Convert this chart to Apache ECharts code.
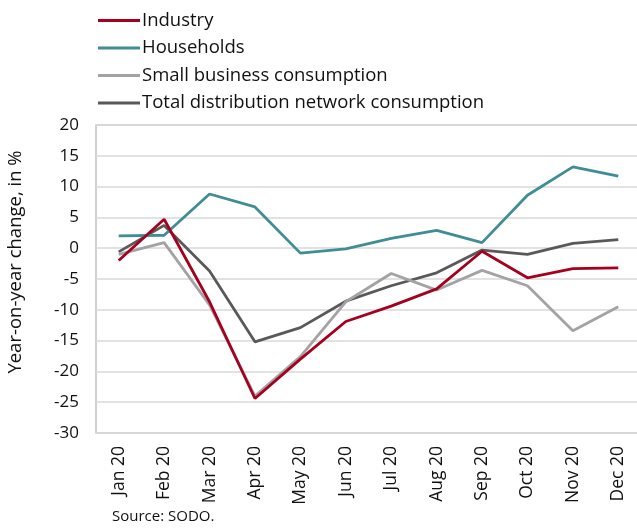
<!DOCTYPE html>
<html><head><meta charset="utf-8">
<script src="https://cdn.jsdelivr.net/npm/echarts@6/dist/echarts.min.js"></script>
<style>html,body{margin:0;padding:0;background:#fff;overflow:hidden}#c{width:645px;height:529px}</style>
</head><body><div id="c"></div>
<script>
const categories = ["Jan 20","Feb 20","Mar 20","Apr 20","May 20","Jun 20","Jul 20","Aug 20","Sep 20","Oct 20","Nov 20","Dec 20"];
const industry = [-2.0, 4.7, -8.7, -24.4, -18.0, -11.9, -9.4, -6.6, -0.5, -4.8, -3.3, -3.2];
const households = [2.0, 2.1, 8.8, 6.7, -0.8, -0.1, 1.6, 2.9, 0.9, 8.6, 13.2, 11.7];
const smallBusiness = [-1.0, 0.9, -9.2, -24.0, -17.6, -8.7, -4.1, -6.8, -3.6, -6.1, -13.4, -9.5];
const totalNetwork = [-0.6, 3.7, -3.7, -15.2, -12.9, -8.6, -6.1, -4.0, -0.3, -1.0, 0.8, 1.4];
const seriesNames = ["Industry","Households","Small business consumption","Total distribution network consumption"];
const colors = ["#a6001f","#3f8e95","#a3a3a3","#595959"];
const yMin = -30, yMax = 20, yStep = 5;

const font = "'Open Sans', 'Liberation Sans', sans-serif";
const chart = echarts.init(document.getElementById('c'), null, {renderer:'canvas'});
const data = [industry, households, smallBusiness, totalNetwork];
chart.setOption({
  animation:false,
  color: colors,
  legend: {
    orient:'vertical', left: 93, top: 6, itemWidth: 42, itemHeight: 3, itemGap: 8.5,
    icon: 'rect',
    textStyle:{fontFamily:font, fontSize:18.5, color:'#111', padding:[0,0,0,-3]},
    data: seriesNames
  },
  grid: {left: 96, right: 4, top: 125, bottom: 96, show:true, borderColor:'#c4c4c4', borderWidth:1.5},
  xAxis: {
    type:'category', data: categories, boundaryGap:true,
    axisLine:{show:false}, axisTick:{show:false},
    axisLabel:{rotate:90, fontFamily:font, fontSize:17.5, color:'#111', margin:13, interval:0}
  },
  yAxis: {
    type:'value', min:yMin, max:yMax, interval:yStep,
    axisLine:{show:false}, axisTick:{show:false},
    axisLabel:{fontFamily:font, fontSize:17, color:'#111', margin:17},
    splitLine:{lineStyle:{color:'#d9d9d9', width:1.5}}
  },
  graphic:[
    {type:'text', left:112, top:509, style:{text:'Source: SODO.', font:'15px '+font, fill:'#111'}},
    {type:'text', x:16, y:262, rotation:Math.PI/2, style:{text:'Year-on-year change, in %', font:'18.5px '+font, fill:'#111', textAlign:'center', textVerticalAlign:'middle'}}
  ],
  series: seriesNames.map((n,i)=>({
    name:n, type:'line', data:data[i], symbol:'none', lineStyle:{width:2.8, color:colors[i]}, z: 10-i
  }))
});
</script></body></html>
